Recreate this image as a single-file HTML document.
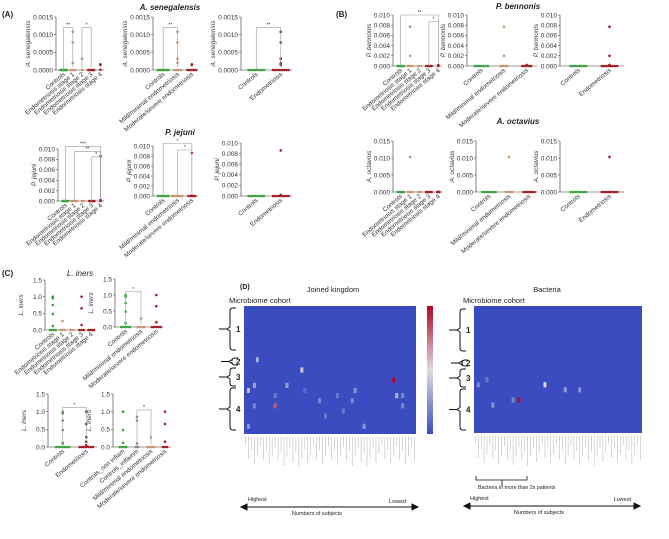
<!DOCTYPE html>
<html><head><meta charset="utf-8">
<style>
html,body{margin:0;padding:0;background:#fff;}
svg{display:block;font-family:"Liberation Sans",sans-serif;}
</style></head>
<body>
<svg id="fig" width="669" height="539" viewBox="0 0 669 539" xmlns="http://www.w3.org/2000/svg">
<defs>
<linearGradient id="cbar" x1="0" y1="1" x2="0" y2="0">
<stop offset="0" stop-color="#3b4cc0"/><stop offset="0.5" stop-color="#dddddd"/><stop offset="1" stop-color="#b40426"/>
</linearGradient>
</defs>
<g id="panels"></g>
<g id="heat"></g>
</svg>
<script>
const G='#3aa53a',T='#c8956a',R='#a51d22',GR='#888';
const stageLabels=['Controls','Endometriosis stage 1','Endometriosis stage 2','Endometriosis stage 3','Endometriosis stage 4'];
const sevLabels=['Controls','Mild/minimal endometriosis','Moderate/severe endometriosis'];
const binLabels=['Controls','Endometriosis'];
const inflLabels=['Controls_non inflam','Controls_inflamm','Mild/minimal endometriosis','Moderate/severe endometriosis'];
const stageColors=[G,T,T,R,R], sevColors=[G,T,R], binColors=[G,R], inflColors=[G,GR,T,R];

const tickSmall=['0.0000','0.0005','0.0010','0.0015'];
const tick010=['0.000','0.002','0.004','0.006','0.008','0.010'];
const tick015=['0.000','0.005','0.010','0.015'];
const tick15=['0.0','0.5','1.0','1.5'];

const a1Values=[[0,0,0,0,0,0,0,0],[0,0,0,0.00108,0.00078,0.0002],[0,0.00032],[0,0,0,0,0],[0.00016,0.00014,0.00001]];
const a2Values=[[0,0,0,0,0,0,0,0],[0,0,0,0,0.00108,0.00078,0.00032,0.0002],[0,0,0,0,0,0.00016,0.00014]];
const a3Values=[[0,0,0,0,0,0,0,0],[0,0,0,0,0,0,0,0,0.00108,0.00078,0.00032,0.0002,0.00016,0.00014]];
const a4Values=[[0,0,0,0,0,0],[0,0,0,0,0],[0,0],[0,0,0,0],[0.0086,0,0.0002]];
const a5Values=[[0,0,0,0,0,0],[0,0,0,0,0,0],[0,0,0,0,0.0086,0.0001]];
const a6Values=[[0,0,0,0,0,0,0,0],[0,0,0,0,0,0,0,0,0.0086,0.0002]];
const b1Values=[[0,0,0,0,0,0],[0,0,0,0.0077,0.002],[0,0],[0,0,0,0],[0.0002,0.0001,0]];
const b2Values=[[0,0,0,0,0,0,0],[0,0,0,0,0.0077,0.002],[0,0,0,0,0,0.0002]];
const b3Values=[[0,0,0,0,0,0,0,0],[0,0,0,0,0,0,0,0,0.0077,0.002,0.0002]];
const b4Values=[[0,0,0,0,0,0],[0,0,0,0.0103],[0,0],[0,0,0,0],[0,0.0001,0]];
const b5Values=[[0,0,0,0,0,0,0],[0,0,0,0,0.0103],[0,0,0,0,0,0]];
const b6Values=[[0,0,0,0,0,0,0,0],[0,0,0,0,0,0,0,0,0.0103]];
const c1Values=[[0,0,0,0,1,0.98,0.95,0.75,0.48,0.12],[0,0,0,0.27],[0,0],[0,0,0,1,0.65,0.15],[0,0,0,0]];
const c2Values=[[0,0,0,0,0,1,0.98,0.95,0.75,0.48,0.12],[0,0,0,0,0.27],[0,0,0,0,0,1,0.65,0.15]];
const c3Values=[[0,0,0,0,0,0,0,1,0.98,0.97,0.95,0.75,0.48,0.12,0.1],[0,0,0,0,0,0,0,1,0.65,0.28,0.15,0.05]];
const c4Values=[[0,0,0,0,1,1,0.48,0.12],[0,0,0.85,0.75,0.1],[0,0,0,0,0.27],[0,0,0,1,0.65,0.15]];

const panels=[
 {id:'a1',x0:56,x1:104,yt:17,yb:70,max:0.0015,ticks:tickSmall,yl:'A. senegalensis',labels:stageLabels,colors:stageColors,vals:a1Values},
 {id:'a2',x0:153,x1:198,yt:17,yb:70,max:0.0015,ticks:tickSmall,yl:'A. senegalensis',labels:sevLabels,colors:sevColors,vals:a2Values},
 {id:'a3',x0:241,x1:292,yt:17,yb:70,max:0.0015,ticks:tickSmall,yl:'A. senegalensis',labels:binLabels,colors:binColors,vals:a3Values},
 {id:'a4',x0:58,x1:104,yt:149,yb:201,max:0.010,ticks:tick010,yl:'P. jejuni',labels:stageLabels,colors:stageColors,vals:a4Values},
 {id:'a5',x0:153,x1:198,yt:146,yb:196,max:0.010,ticks:tick010,yl:'P. jejuni',labels:sevLabels,colors:sevColors,vals:a5Values},
 {id:'a6',x0:241,x1:292,yt:143,yb:196,max:0.010,ticks:tick010,yl:'P. jejuni',labels:binLabels,colors:binColors,vals:a6Values},
 {id:'b1',x0:393,x1:442,yt:15,yb:66,max:0.010,ticks:tick010,yl:'P. bennonis',labels:stageLabels,colors:stageColors,vals:b1Values},
 {id:'b2',x0:467,x1:537,yt:15,yb:66,max:0.010,ticks:tick010,yl:'P. bennonis',labels:sevLabels,colors:sevColors,vals:b2Values},
 {id:'b3',x0:560,x1:624,yt:15,yb:66,max:0.010,ticks:tick010,yl:'P. bennonis',labels:binLabels,colors:binColors,vals:b3Values},
 {id:'b4',x0:393,x1:442,yt:141,yb:192,max:0.015,ticks:tick015,yl:'A. octavius',labels:stageLabels,colors:stageColors,vals:b4Values},
 {id:'b5',x0:476,x1:538,yt:141,yb:192,max:0.015,ticks:tick015,yl:'A. octavius',labels:sevLabels,colors:sevColors,vals:b5Values},
 {id:'b6',x0:560,x1:624,yt:141,yb:192,max:0.015,ticks:tick015,yl:'A. octavius',labels:binLabels,colors:binColors,vals:b6Values},
 {id:'c1',x0:45,x1:95,yt:280,yb:330,max:1.5,ticks:tick15,yl:'L. iners',labels:stageLabels,colors:stageColors,vals:c1Values},
 {id:'c2',x0:115,x1:163,yt:279,yb:327,max:1.5,ticks:tick15,yl:'L. iners',labels:sevLabels,colors:sevColors,vals:c2Values},
 {id:'c3',x0:48,x1:97,yt:394,yb:447,max:1.5,ticks:tick15,yl:'L. iners',labels:binLabels,colors:binColors,vals:c3Values},
 {id:'c4',x0:113,x1:171,yt:394,yb:447,max:1.5,ticks:tick15,yl:'L. iners',labels:inflLabels,colors:inflColors,vals:c4Values}
];
const NS='http://www.w3.org/2000/svg';
function mk(tag,attrs,parent){const e=document.createElementNS(NS,tag);for(const k in attrs)e.setAttribute(k,attrs[k]);if(parent)parent.appendChild(e);return e;}
const root=document.getElementById('panels');
panels.forEach(p=>{
 const g=mk('g',{},root);
 
 
 const ys=v=>p.yb-(v/p.max)*(p.yb-p.yt);
 const n=p.vals.length,gw=(p.x1-p.x0-2)/n;
 const gx=i=>p.x0+3+gw*(i+0.5);
 const ax=mk('path',{d:`M${p.x0} ${p.yt}V${p.yb}H${p.x1}`,stroke:'#333','stroke-width':0.6,fill:'none'},g);
 
 
 p.ticks.forEach((t,i)=>{
  const v=p.max*i/(p.ticks.length-1),y=ys(v);
  mk('line',{x1:p.x0-2,x2:p.x0,y1:y,y2:y,stroke:'#333','stroke-width':0.5},g);
  const tx=mk('text',{x:p.x0-3,y:y+2.3,'font-size':6.5,'text-anchor':'end',fill:'#333'},g);
  tx.textContent=t;
  
  
 });
 const yl=mk('text',{x:0,y:0,'font-size':6.5,'font-style':'italic','text-anchor':'middle',fill:'#333',transform:`translate(${p.x0-(p.max<0.002?26:22)},${(p.yt+p.yb)/2}) rotate(-90)`},g);
 yl.textContent=p.yl;
 
 
 p.vals.forEach((arr,i)=>{
  const cx=gx(i);
  const zeros=arr.filter(v=>v===0).length;let zi=0;
  const sp=Math.min(2.2,(gw-2)/Math.max(1,zeros));
  arr.forEach(v=>{
   let x=cx;
   if(v===0){x=cx+(zi-(zeros-1)/2)*sp;zi++;}
   const c=mk('circle',{cx:x,cy:ys(v),r:1.3,fill:p.colors[i]},g);
   
   
  });
  const lb=mk('text',{x:0,y:0,'font-size':6.3,'text-anchor':'end',fill:'#333',transform:`translate(${cx+2},${p.yb+5}) rotate(-40)`},g);
  lb.textContent=p.labels[i];
  
  
 });
});
const brackets=[['a1',0,1,0.0012,'**'],['a1',2,3,0.0012,'*'],['a2',0,1,0.0012,'**'],['a3',0,1,0.0012,'**'],
 ['a4',0,4,0.0105,'***'],['a4',1,4,0.0095,'**'],['a4',3,4,0.0085,'*'],['a5',0,2,0.0105,'*'],['a5',1,2,0.0092,'*'],
 ['b1',0,4,0.010,'**'],['b1',3,4,0.0087,'*'],['c2',0,1,1.1,'*'],['c3',0,1,1.12,'*'],['c4',1,2,1.05,'*']];
brackets.forEach(b=>{
 const p=panels.find(q=>q.id===b[0]);const ys=v=>p.yb-(v/p.max)*(p.yb-p.yt);
 const n=p.vals.length,gw=(p.x1-p.x0-2)/n,gx=i=>p.x0+3+gw*(i+0.5);
 const y=ys(b[3]);
 const e=mk('path',{d:`M${gx(b[1])} ${p.yb}V${y}H${gx(b[2])}V${p.yb-3}`,stroke:'#999','stroke-width':0.6,fill:'none'},root);
 
 
 const t=mk('text',{x:(gx(b[1])+gx(b[2]))/2,y:y-1,'font-size':5,'text-anchor':'middle',fill:'#333'},root);
 t.textContent=b[4];
 
 
});
const heatRows=25,heatCols=58;
const leftRow=[10,12,14,15,15,16,16,17,17,17,19,19,18,18,23,23,21,20,17,16];
const leftCol=[4,19,50,3,14,1,37,51,53,10,3,53,25,36,1,40,27,33,31,20];
const leftVal=[0.35,0.55,1.0,0.3,0.3,0.6,0.25,0.35,0.2,0.15,0.2,0.2,0.2,0.2,0.25,0.25,0.15,0.15,0.15,0.1];
const leftOrange=[[19,10,0.8]];
const rightRow=[15,18,16,16,19,15,14,18];
const rightCol=[24,15,31,36,6,1,4,13];
const rightVal=[0.5,1.0,0.3,0.25,0.25,0.2,0.15,0.2];
function col(v){const s=[[59,76,192],[221,221,221],[180,4,38]];const t=v*2;const a=t<1?s[0]:s[1],b=t<1?s[1]:s[2],f=t<1?t:t-1;return `rgb(${a.map((c,i)=>Math.round(c+(b[i]-c)*f)).join(',')})`;}
const H=document.getElementById('heat');
function heat(x0,y0,w,h,rows,cols,vals,name){
 const bg=mk('rect',{x:x0,y:y0,width:w,height:h,fill:'#3b4cc0'},H);
 
 
 const cw=w/heatCols,ch=h/heatRows;
 rows.forEach((r,i)=>{
  const c=mk('rect',{x:x0+cols[i]*cw,y:y0+r*ch,width:cw,height:ch,fill:col(vals[i])},H);
  
  
 });
 for(let i=0;i<heatCols;i++){const L=8+((i*37)%23);mk('line',{x1:x0+(i+0.5)*cw,x2:x0+(i+0.5)*cw,y1:y0+h+3,y2:y0+h+3+L,stroke:'#bbb','stroke-width':0.6},H);}
}
heat(244,306,172,128,leftRow,leftCol,leftVal,'heatmap-joined-kingdom');
leftOrange.forEach(o=>{const c=mk('rect',{x:244+o[1]*172/heatCols,y:306+o[0]*128/heatRows,width:172/heatCols,height:128/heatRows,fill:col(o[2])},H);});
heat(474,306,168,127,rightRow,rightCol,rightVal,'heatmap-bacteria');
function txt(x,y,s,size,name,extra){const t=mk('text',Object.assign({x:x,y:y,'font-size':size,fill:'#222'},extra||{}),document.getElementById('fig'));t.textContent=s;return t;}
txt(2,17,'(A)',8,'panel-label-a',{'font-weight':'bold'});
txt(336,17,'(B)',8,'panel-label-b',{'font-weight':'bold'});
txt(2,276,'(C)',8,'panel-label-c',{'font-weight':'bold'});
txt(240,289,'(D)',7,'panel-label-d',{'font-weight':'bold'});
txt(170,10,'A. senegalensis',8,'title-a-senegalensis',{'font-weight':'bold','font-style':'italic','text-anchor':'middle'});
txt(180,135,'P. jejuni',8,'title-p-jejuni',{'font-weight':'bold','font-style':'italic','text-anchor':'middle'});
txt(518,9,'P. bennonis',8,'title-p-bennonis',{'font-weight':'bold','font-style':'italic','text-anchor':'middle'});
txt(518,124,'A. octavius',8,'title-a-octavius',{'font-weight':'bold','font-style':'italic','text-anchor':'middle'});
txt(80,276,'L. iners',8,'title-l-iners',{'font-style':'italic','text-anchor':'middle'});
txt(333,292,'Joined kingdom',7.5,'title-joined-kingdom',{'text-anchor':'middle'});
txt(547,292,'Bacteria',7.5,'title-bacteria',{'text-anchor':'middle'});
txt(229,303,'Microbiome cohort',7.5,'label-microbiome-cohort');
txt(463,303,'Microbiome cohort',7.5,'label-microbiome-cohort');
const cb=mk('rect',{x:427,y:306,width:6,height:128,fill:'url(#cbar)'},H);


function br(x,y1,y2,lab,lx){const m=(y1+y2)/2;const p=mk('path',{d:`M${x+6} ${y1}H${x+3}Q${x} ${y1} ${x} ${y1+3}V${m-2}L${x-3} ${m}L${x} ${m+2}V${y2-3}Q${x} ${y2} ${x+3} ${y2}H${x+6}M${x-3} ${m}H${x-11}`,stroke:'#111','stroke-width':1,fill:'none'},H);txt(lx,m+3,lab,8,'cluster-label',{'font-weight':'bold'});}
[[230,308,350,'1'],[232,358,365,'2'],[230,368,386,'3'],[230,388,430,'4']].forEach(a=>br(a[0],a[1],a[2],a[3],236));
[[460,309,351,'1'],[462,360,366,'2'],[460,369,387,'3'],[460,389,430,'4']].forEach(a=>br(a[0],a[1],a[2],a[3],466));
function arrow(x1,x2,y){const p=mk('path',{d:`M${x1+5} ${y}H${x2-5}M${x1} ${y}l6 -3v6zM${x2} ${y}l-6 -3v6z`,stroke:'#111','stroke-width':1,fill:'#111'},H);}
arrow(241,418,507);arrow(464,640,506);
txt(248,501,'Highest',5.5,'label-highest');txt(389,503,'Lowest',5.5,'label-lowest');
txt(317,515,'Numbers of subjects',5.5,'label-numbers-of-subjects',{'text-anchor':'middle'});
txt(470,500,'Highest',5.5,'label-highest');txt(631,501,'Lowest',5.5,'label-lowest',{'text-anchor':'end'});
txt(539,514,'Numbers of subjects',5.5,'label-numbers-of-subjects',{'text-anchor':'middle'});
const bb=mk('path',{d:'M476 476V480H527V476M502 480V486',stroke:'#111','stroke-width':0.8,fill:'none'},H);


txt(478,489,'Bacteria in more than 2x patients',5.3,'label-bacteria-2x');
</script>
</body></html>
